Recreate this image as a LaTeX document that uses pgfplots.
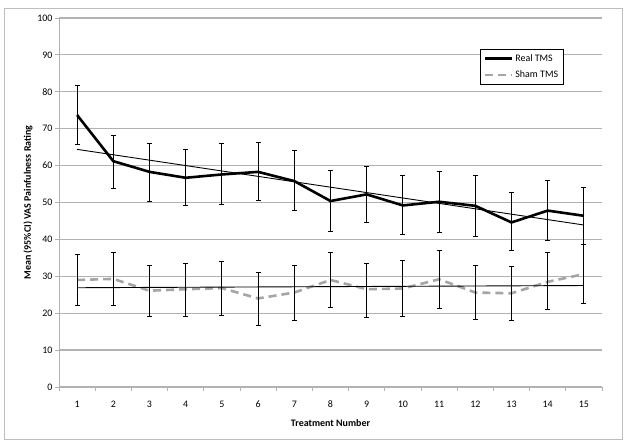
\documentclass[border=0pt]{standalone}
\usepackage{fontspec}
\setmainfont{Carlito}
\usepackage{pgfplots}
\usepackage{pgfplotstable}
\pgfplotsset{compat=1.18}

\definecolor{shamgray}{RGB}{165,165,165}
\definecolor{gridgray}{RGB}{178,178,178}
\definecolor{framegray}{RGB}{190,190,190}

% treatment, mean, CI above, CI below
\pgfplotstableread{
x  y     ep   em
1  73.7  8.0  8.1
2  61.2  7.0  7.4
3  58.3  7.7  8.1
4  56.7  7.7  7.6
5  57.6  8.3  8.0
6  58.3  7.9  7.8
7  55.8  8.2  8.0
8  50.4  8.3  8.3
9  52.2  7.5  7.7
10 49.2  8.0  7.9
11 50.2  8.3  8.2
12 49.1  8.1  8.2
13 44.6  8.0  7.7
14 47.8  8.2  8.2
15 46.4  7.7  7.7
}\realtms

\pgfplotstableread{
x  y     ep   em
1  29.0  7.0  7.0
2  29.3  7.2  7.2
3  26.1  6.8  6.9
4  26.5  6.9  7.3
5  26.8  7.3  7.3
6  24.0  7.0  7.2
7  25.6  7.4  7.5
8  29.0  7.5  7.5
9  26.5  7.0  7.6
10 26.7  7.5  7.6
11 29.2  7.8  7.9
12 25.6  7.4  7.4
13 25.4  7.4  7.5
14 28.5  8.0  7.6
15 30.6  8.1  7.9
}\shamtms

\begin{document}
\begin{tikzpicture}
\useasboundingbox (0bp,0bp) rectangle (629bp,448bp);
\draw[framegray, line width=1bp] (4bp,8bp) rectangle (622bp,439bp);
\begin{axis}[
  at={(59bp,61bp)}, anchor=south west,
  scale only axis, width=543bp, height=369bp,
  xmin=0.5, xmax=15.5, ymin=0, ymax=100,
  xtick={1,...,15},
  minor xtick={0.5,1.5,...,15.5},
  ytick={0,10,...,100},
  major x tick style={draw=none},
  tick align=outside,
  major tick length=4bp, minor tick length=4bp,
  tick style={gridgray, line width=0.8bp},
  ymajorgrids,
  grid style={gridgray, line width=1.2bp},
  axis x line*=bottom, axis y line*=left,
  axis line style={gridgray, line width=1bp, -},
  /pgf/number format/assume math mode=true,
  tick label style={font=\fontsize{10}{12}\selectfont, black},
  xticklabel style={anchor=center, yshift=-13bp},
  yticklabel style={anchor=east, xshift=1bp},
  xlabel={Treatment Number},
  ylabel={Mean (95\%CI) VAS Painfulness Rating},
  label style={font=\fontsize{10}{12}\selectfont\bfseries},
  xlabel style={at={(axis description cs:0.5,0)}, anchor=center, yshift=-36bp},
  ylabel style={at={(axis description cs:-0.0571,0.5)}, anchor=center},
  legend style={at={(rel axis cs:0.776,0.916)}, anchor=north west,
    draw=black, line width=0.8bp, fill=white,
    font=\fontsize{10}{12}\selectfont, inner xsep=3bp, inner ysep=3bp,
    row sep=4bp},
  legend cell align=left,
  legend image code/.code={\draw[#1] (0bp,0bp) -- (27bp,0bp);},
]
\addplot[black, line width=2.6bp, no markers,
  error bars/.cd, y dir=both, y explicit,
  error bar style={black, line width=0.9bp, solid},
  error mark options={rotate=90, black, mark size=2.5bp, line width=0.9bp, solid}]
  table[x=x, y=y, y error plus=ep, y error minus=em]{\realtms};
\addlegendentry{Real TMS}
\addplot[shamgray, line width=2.6bp, dash pattern=on 8bp off 5bp, no markers,
  error bars/.cd, y dir=both, y explicit,
  error bar style={black, line width=0.9bp, solid},
  error mark options={rotate=90, black, mark size=2.5bp, line width=0.9bp, solid}]
  table[x=x, y=y, y error plus=ep, y error minus=em]{\shamtms};
\addlegendentry{Sham TMS}
% linear trend lines
\addplot[black, line width=0.9bp, forget plot] coordinates {(1,64.4) (15,43.9)};
\addplot[black, line width=0.9bp, forget plot] coordinates {(1,26.9) (15,27.5)};
\end{axis}
\end{tikzpicture}
\end{document}
